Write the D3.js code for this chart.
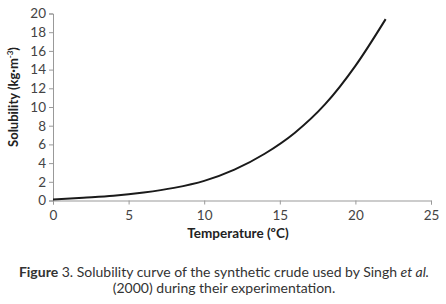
<!DOCTYPE html>
<html lang="en">
<head>
  <meta charset="UTF-8">
  <title>Solubility curve</title>
  <script src="https://d3js.org/d3.v7.min.js"></script>
  <style>
    body { margin: 0; background: #fff; }
    svg text { font-family: "Lato", "Open Sans", sans-serif; }
  </style>
</head>
<body>
  <svg id="chart"></svg>
  <script>
    // temperature (°C) and solubility (kg·m-3)
    const temps = [0, 2, 4, 6, 8, 10, 12, 14, 16, 18, 20, 22];
    const solubility = [0.12, 0.3, 0.5, 0.85, 1.35, 2.1, 3.3, 5.0, 7.25, 10.3, 14.4, 19.4];
    const xTicks = [0, 5, 10, 15, 20, 25];
    const yTicks = [0, 2, 4, 6, 8, 10, 12, 14, 16, 18, 20];

    const W = 446, H = 304;
    const margin = {top: 13.5, right: 15, bottom: 103.5, left: 53};
    const width = W - margin.left - margin.right,
          height = H - margin.top - margin.bottom;

    const svg = d3.select("#chart").attr("width", W).attr("height", H);
    const g = svg.append("g").attr("transform", `translate(${margin.left},${margin.top})`);

    const x = d3.scaleLinear().domain([0, 25]).range([0, 378]);
    const y = d3.scaleLinear().domain([0, 20]).range([height, 0]);

    const xAxis = g.append("g").attr("transform", `translate(0,${height})`)
      .call(d3.axisBottom(x).tickValues(xTicks).tickSize(4).tickPadding(6));
    const yAxis = g.append("g")
      .call(d3.axisLeft(y).tickValues(yTicks).tickSize(4).tickPadding(3));

    [xAxis, yAxis].forEach(a => {
      a.selectAll("path, line").attr("stroke", "#999");
      a.selectAll("text").attr("fill", "#444").attr("font-size", 13.5);
    });

    const data = temps.map((t, i) => [t, solubility[i]]);
    const line = d3.line().x(d => x(d[0])).y(d => y(d[1])).curve(d3.curveMonotoneX);
    g.append("path").attr("d", line(data))
      .attr("fill", "none").attr("stroke", "#1a1a1a").attr("stroke-width", 2);

    // axis titles
    svg.append("text").attr("x", 238).attr("y", 238)
      .attr("text-anchor", "middle").attr("font-size", 13.5).attr("font-weight", "bold")
      .attr("fill", "#222").text("Temperature (ºC)");

    const yt = svg.append("text").attr("transform", "translate(18,97) rotate(-90)")
      .attr("text-anchor", "middle").attr("font-size", 13).attr("font-weight", "bold")
      .attr("fill", "#222");
    yt.append("tspan").text("Solubility (kg·m");
    yt.append("tspan").attr("dy", -5).attr("font-size", 8).text("-3");
    yt.append("tspan").attr("dy", 5).text(")");

    // caption
    const c1 = svg.append("text").attr("x", 224).attr("y", 277)
      .attr("text-anchor", "middle").attr("font-size", 14).attr("fill", "#333");
    c1.append("tspan").attr("font-weight", "bold").text("Figure");
    c1.append("tspan").text(" 3. Solubility curve of the synthetic crude used by Singh ");
    c1.append("tspan").attr("font-style", "italic").text("et al.");
    svg.append("text").attr("x", 224).attr("y", 293)
      .attr("text-anchor", "middle").attr("font-size", 14).attr("fill", "#333")
      .text("(2000) during their experimentation.");
  </script>
</body>
</html>
